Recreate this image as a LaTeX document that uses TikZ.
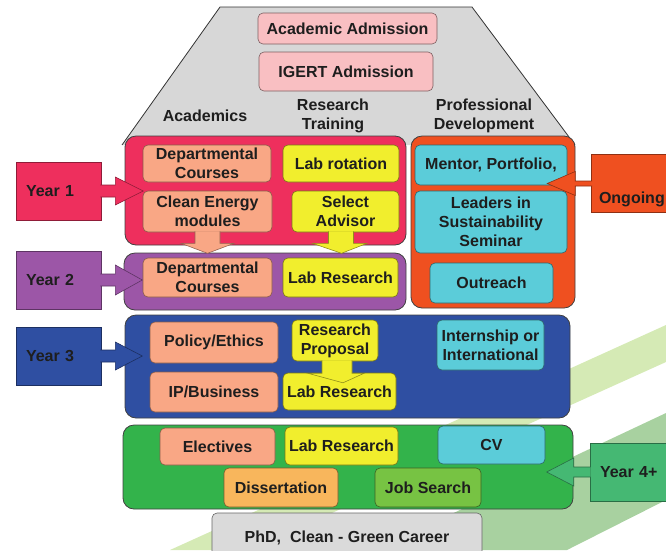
\documentclass[tikz,border=0pt]{standalone}
\usepackage{fontspec}
\setsansfont{Liberation Sans}
\usetikzlibrary{calc}

\definecolor{ink}{HTML}{1E1E1E}
\definecolor{admpink}{HTML}{F9BFC2}
\definecolor{trapgrey}{HTML}{D7D7D7}
\definecolor{yronered}{HTML}{EE2F5D}
\definecolor{salmon}{HTML}{F9A785}
\definecolor{labyellow}{HTML}{F1EE2D}
\definecolor{yrtwopurple}{HTML}{9C56A7}
\definecolor{profred}{HTML}{EF5020}
\definecolor{devcyan}{HTML}{5BCCD9}
\definecolor{yrthreeblue}{HTML}{2F4FA2}
\definecolor{yrfourgreen}{HTML}{33B34B}
\definecolor{tagreen}{HTML}{45B873}
\definecolor{dissorange}{HTML}{F8B65C}
\definecolor{jobgreen}{HTML}{77C343}
\definecolor{phdgrey}{HTML}{DADADA}
\definecolor{swooshA}{HTML}{D5EAB5}
\definecolor{swooshB}{HTML}{A8D1A0}

\newcommand{\lbl}{\sffamily\bfseries\fontsize{16}{19}\selectfont}

\begin{document}
\begin{tikzpicture}[
  x=1pt, y=-1pt,
  box/.style={draw, rounded corners=5pt, line width=0.6pt, align=center, inner sep=0pt, font=\lbl, text=ink},
  admbox/.style={box, fill=admpink, draw=admpink!50!black},
  salmonbox/.style={box, fill=salmon, draw=salmon!55!black},
  yellowbox/.style={box, fill=labyellow, draw=labyellow!50!black},
  cyanbox/.style={box, fill=devcyan, draw=devcyan!50!black},
  panel/.style={draw=black!75, rounded corners=11pt, line width=0.8pt},
  yearbox/.style={draw=#1!60!black, fill=#1, line width=0.6pt, minimum width=85, minimum height=58,
    text width=65, inner xsep=10pt, inner ysep=0pt, align=left, font=\lbl, text=ink},
  yeararrow/.style={draw=#1!60!black, fill=#1, line width=0.6pt},
  heading/.style={font=\lbl, align=center, text=ink}
]
  \useasboundingbox (0,0) rectangle (666,550);
  \clip (0,0) rectangle (666,550);

  % background swooshes
  \fill[swooshA] (170,550) -- (666,325) -- (666,362) -- (250,550) -- cycle;
  \fill[swooshB] (375,550) -- (666,413) -- (666,500) -- (567,550) -- cycle;

  % admission funnel
  \draw[fill=trapgrey, draw=black!80, line width=0.8pt] (122,145) -- (220,7) -- (472,7) -- (575,145);
  \node[admbox, minimum width=179, minimum height=31] (acad) at (347.5,28.5) {Academic Admission};
  \node[admbox, minimum width=174, minimum height=39] (igert) at (346,71.5) {IGERT Admission};

  \node[heading] (hacad) at (205,116) {Academics};
  \node[heading] (hres) at (333,116) {Research\\Training};
  \node[heading] (hprof) at (484,116) {Professional\\Development};

  % year panels
  \node[panel, fill=yronered, minimum width=281, minimum height=109] (pone) at (265.5,190.5) {};
  \node[panel, fill=yrtwopurple, minimum width=282, minimum height=57] (ptwo) at (265,281.5) {};
  \node[panel, fill=profred, minimum width=164, minimum height=172] (pprof) at (493,222) {};
  \node[panel, fill=yrthreeblue, minimum width=445, minimum height=103] (pthree) at (347.5,366.5) {};
  \node[panel, fill=yrfourgreen, minimum width=450, minimum height=84] (pfour) at (348,467) {};

  % year 1
  \node[salmonbox, minimum width=128, minimum height=37] (dcone) at (207,163.5) {Departmental\\Courses};
  \node[yellowbox, minimum width=116, minimum height=37] (labrot) at (341,163.5) {Lab rotation};
  \node[salmonbox, minimum width=129, minimum height=41] (clean) at (207.5,211.5) {Clean Energy\\modules};
  \node[yellowbox, minimum width=107, minimum height=41] (advisor) at (345.5,211.5) {Select\\Advisor};

  % year 2
  \node[salmonbox, minimum width=129, minimum height=39] (dctwo) at (207.5,277.5) {Departmental\\Courses};
  \node[yellowbox, minimum width=115, minimum height=39] (labtwo) at (340.5,277.5) {Lab Research};

  \path[yeararrow=salmon] ($(clean.south)+(-12.5,-1)$) -- ++(0,12) -- ++(-14,0) -- ($(clean.south)+(0,21)$)
    -- ($(clean.south)+(26.5,11)$) -- ++(-14,0) -- ++(0,-12);
  \path[yeararrow=labyellow] ($(advisor.south)+(-17,-1)$) -- ++(0,12) -- ++(-16,0) -- ($(advisor.south)+(-4,21)$)
    -- ($(advisor.south)+(21.5,11)$) -- ++(-13.5,0) -- ++(0,-12);

  % professional development
  \node[cyanbox, minimum width=152, minimum height=40] (mentor) at (491,165) {Mentor, Portfolio,};
  \node[cyanbox, minimum width=152, minimum height=62] (leaders) at (491,222) {Leaders in\\Sustainability\\Seminar};
  \node[cyanbox, minimum width=123, minimum height=40] (outreach) at (491.5,283) {Outreach};

  % year 3
  \node[salmonbox, minimum width=128, minimum height=41] (policy) at (214,342.5) {Policy/Ethics};
  \node[salmonbox, minimum width=128, minimum height=40] (ipbiz) at (214,392) {IP/Business};
  \node[yellowbox, minimum width=113, minimum height=37] (labthree) at (339.5,391.5) {Lab Research};
  \node[yellowbox, minimum width=86, minimum height=41] (proposal) at (335,340.5) {Research\\Proposal};
  \node[cyanbox, minimum width=107, minimum height=50] (intern) at (490.5,345) {Internship or\\International};
  \path[yeararrow=labyellow] ($(proposal.south)+(-13,-1)$) -- ++(0,13) -- ++(-14,0) -- ($(proposal.south)+(8,21.5)$)
    -- ($(proposal.south)+(29,12)$) -- ++(-12,0) -- ++(0,-13);

  % year 4+
  \node[salmonbox, minimum width=115, minimum height=37] (electives) at (217.5,446.5) {Electives};
  \node[yellowbox, minimum width=113, minimum height=38] (labfour) at (341.5,446) {Lab Research};
  \node[cyanbox, minimum width=107, minimum height=38] (cv) at (491.5,445) {CV};
  \node[box, fill=dissorange, draw=dissorange!50!black, minimum width=114, minimum height=39] (diss) at (281,487.5) {Dissertation};
  \node[box, fill=jobgreen, draw=jobgreen!50!black, minimum width=106, minimum height=39] (job) at (428,487.5) {Job Search};

  \node[box, fill=phdgrey, draw=black!60, minimum width=270, minimum height=49] (phd) at (347,537.5) {PhD,\ \ Clean - Green Career};

  % year labels
  \node[yearbox=yronered] (yone) at (58.5,191) {Year 1};
  \path[yeararrow=yronered] ($(yone.east)+(-1,-6)$) -- ++(15,0) -- ++(0,-8) -- ($(yone.east)+(42,0)$)
    -- ($(yone.east)+(14,14)$) -- ++(0,-8) -- ++(-15,0);
  \node[yearbox=yrtwopurple] (ytwo) at (58.5,280) {Year 2};
  \path[yeararrow=yrtwopurple] ($(ytwo.east)+(-1,-6)$) -- ++(15,0) -- ++(0,-9) -- ($(ytwo.east)+(41,0)$)
    -- ($(ytwo.east)+(14,15)$) -- ++(0,-9) -- ++(-15,0);
  \node[yearbox=yrthreeblue] (ythree) at (58.5,356) {Year 3};
  \path[yeararrow=yrthreeblue] ($(ythree.east)+(-1,-6)$) -- ++(15,0) -- ++(0,-8) -- ($(ythree.east)+(41,0)$)
    -- ($(ythree.east)+(14,14)$) -- ++(0,-8) -- ++(-15,0);
  \node[yearbox=profred, text width=70, inner xsep=4pt, text height=43pt, text depth=4pt] (ongo) at (634,183.5) {Ongoing};
  \path[yeararrow=profred] ($(ongo.west)+(1,-2.5)$) -- ++(-17,0) -- ++(0,-9.5) -- ($(ongo.west)+(-44,0)$)
    -- ($(ongo.west)+(-16,12)$) -- ++(0,-9.5) -- ++(17,0);
  \node[yearbox=tagreen, text width=70] (yfour) at (635,472) {Year 4+};
  \path[yeararrow=tagreen] ($(yfour.west)+(1,-5)$) -- ++(-17,0) -- ++(0,-9) -- ($(yfour.west)+(-43,0)$)
    -- ($(yfour.west)+(-16,14)$) -- ++(0,-9) -- ++(17,0);
\end{tikzpicture}
\end{document}
